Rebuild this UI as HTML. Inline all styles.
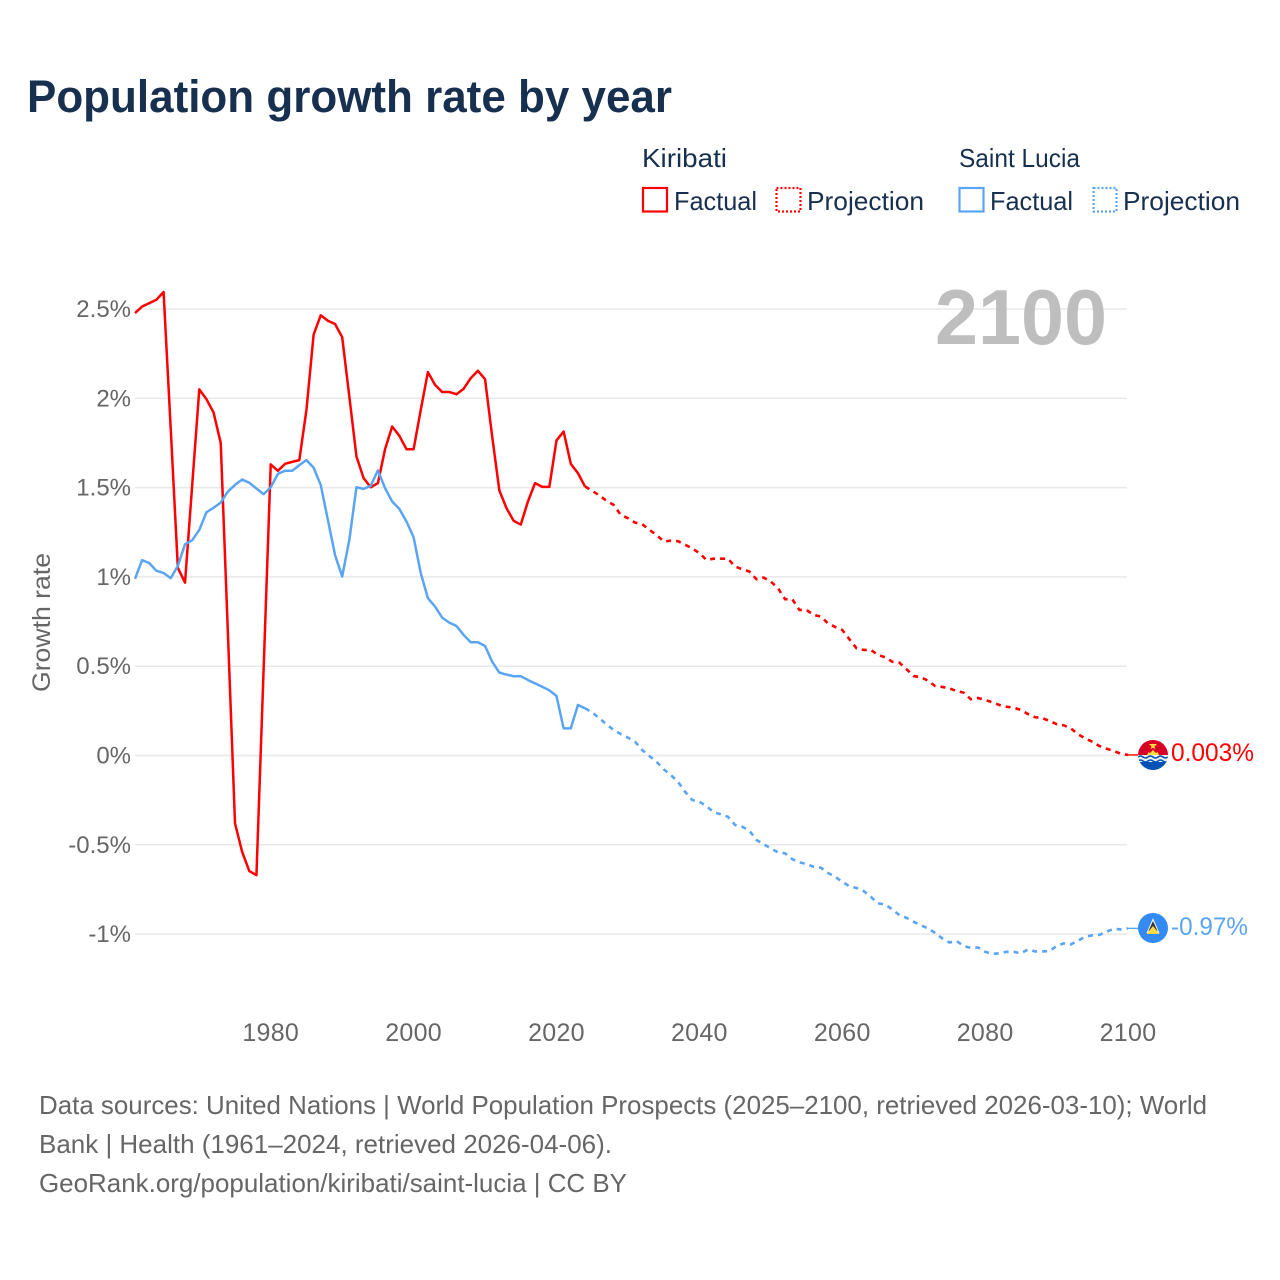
<!DOCTYPE html>
<html lang="en">
<head>
<meta charset="utf-8">
<title>Population growth rate by year</title>
<style>
html,body{margin:0;padding:0;background:#fff;}
svg{display:block;font-family:"Liberation Sans",sans-serif;}
</style>
</head>
<body>
<svg id="chart" xmlns="http://www.w3.org/2000/svg" width="1280" height="1280" viewBox="0 0 1280 1280">
  <rect x="0" y="0" width="1280" height="1280" fill="#ffffff"/>
  <text x="27" y="112" font-size="45" font-weight="700" fill="#18304f" textLength="645" lengthAdjust="spacingAndGlyphs">Population growth rate by year</text>

  <g>
    <text x="642" y="167" font-size="26" fill="#18304f" textLength="85" lengthAdjust="spacingAndGlyphs">Kiribati</text>
    <text x="959" y="167" font-size="26" fill="#18304f" textLength="121" lengthAdjust="spacingAndGlyphs">Saint Lucia</text>
    <rect x="643" y="188" width="24" height="23.5" fill="none" stroke="#ff0000" stroke-width="2.2"/>
    <text x="674" y="210" font-size="26" fill="#18304f" textLength="83" lengthAdjust="spacingAndGlyphs">Factual</text>
    <rect x="776.5" y="188" width="24" height="23.5" fill="none" stroke="#ff0000" stroke-width="2.2" stroke-dasharray="2 2"/>
    <text x="807" y="210" font-size="26" fill="#18304f" textLength="117" lengthAdjust="spacingAndGlyphs">Projection</text>
    <rect x="959.5" y="188" width="24" height="23.5" fill="none" stroke="#5aa5f3" stroke-width="2.2"/>
    <text x="990" y="210" font-size="26" fill="#18304f" textLength="83" lengthAdjust="spacingAndGlyphs">Factual</text>
    <rect x="1093.5" y="188" width="23" height="23.5" fill="none" stroke="#5aa5f3" stroke-width="2.2" stroke-dasharray="2 2"/>
    <text x="1123" y="210" font-size="26" fill="#18304f" textLength="117" lengthAdjust="spacingAndGlyphs">Projection</text>
  </g>

  <g id="grid"></g>
  <text x="935" y="344" font-size="78" font-weight="700" fill="#bebebe" textLength="172" lengthAdjust="spacingAndGlyphs">2100</text>
  <g id="y-axis"></g>
  <g id="x-axis"></g>
  <text transform="translate(50,692) rotate(-90)" x="0" y="0" font-size="25" fill="#666666" textLength="139" lengthAdjust="spacingAndGlyphs">Growth rate</text>
  <g id="series"></g>

  <g>
    <clipPath id="clip-ki"><circle cx="1153" cy="755" r="15"/></clipPath>
    <g clip-path="url(#clip-ki)">
      <rect x="1138" y="740" width="30" height="15" fill="#d80027"/>
      <rect x="1138" y="755" width="30" height="9" fill="#f0f0f0"/>
      <rect x="1138" y="762" width="30" height="8" fill="#0052b4"/>
      <path d="M1147 755l1.5-3 1.5 1 3-3 3 3 1.5-1 1.5 3z" fill="#ffda44"/>
      <path d="M1149 744h8l-2.5 2.5 1 2.5-2.5-1.2-2.5 1.2 1-2.5z" fill="#ffda44"/>
      <path d="M1138 757q2.5-2 5 0t5 0 5 0 5 0 5 0 5 0" fill="none" stroke="#0052b4" stroke-width="1.5"/>
      <path d="M1138 761q2.5-2 5 0t5 0 5 0 5 0 5 0 5 0" fill="none" stroke="#0052b4" stroke-width="1.5"/>
    </g>
  </g>
  <g>
    <circle cx="1153" cy="928" r="15" fill="#338af3"/>
    <path d="M1153 918l6.5 15h-13z" fill="#f0f0f0"/>
    <path d="M1153 921l4.5 10h-9z" fill="#333333"/>
    <path d="M1153 926l6.5 8h-13z" fill="#ffda44"/>
  </g>
  <text x="1171" y="761" font-size="25" fill="#ff0000" textLength="83" lengthAdjust="spacingAndGlyphs">0.003%</text>
  <text x="1171" y="935" font-size="25" fill="#5aa5f3" textLength="77" lengthAdjust="spacingAndGlyphs">-0.97%</text>

  <g font-size="26" fill="#666666">
    <text x="39" y="1114" textLength="1168" lengthAdjust="spacingAndGlyphs">Data sources: United Nations | World Population Prospects (2025–2100, retrieved 2026-03-10); World</text>
    <text x="39" y="1153" textLength="573" lengthAdjust="spacingAndGlyphs">Bank | Health (1961–2024, retrieved 2026-04-06).</text>
    <text x="39" y="1192" textLength="588" lengthAdjust="spacingAndGlyphs">GeoRank.org/population/kiribati/saint-lucia | CC BY</text>
  </g>
</svg>
<script>
const factualStartYear = 1961;
const projectionStartYear = 2024;
const yTickValues = [2.5, 2, 1.5, 1, 0.5, 0, -0.5, -1];
const yTickLabels = ["2.5%", "2%", "1.5%", "1%", "0.5%", "0%", "-0.5%", "-1%"];
const xTickValues = [1980, 2000, 2020, 2040, 2060, 2080, 2100];
const xTickLabels = ["1980", "2000", "2020", "2040", "2060", "2080", "2100"];

const kiribatiFactual = [2.477,2.514,2.533,2.552,2.595,1.83,1.05,0.968,1.51,2.05,1.995,1.92,1.75,0.69,-0.38,-0.54,-0.647,-0.67,0.48,1.63,1.594,1.633,1.644,1.654,1.935,2.356,2.465,2.434,2.416,2.343,2.01,1.674,1.553,1.502,1.525,1.715,1.842,1.79,1.715,1.715,1.935,2.147,2.075,2.035,2.035,2.023,2.053,2.113,2.154,2.107,1.786,1.484,1.385,1.314,1.293,1.422,1.525,1.504,1.504,1.764,1.814,1.633,1.581,1.506];
const kiribatiProjection = [1.506,1.482,1.456,1.426,1.403,1.347,1.329,1.304,1.295,1.263,1.235,1.198,1.203,1.2,1.18,1.16,1.133,1.095,1.102,1.102,1.102,1.058,1.043,1.03,0.987,0.996,0.974,0.937,0.875,0.875,0.815,0.815,0.787,0.778,0.74,0.72,0.703,0.651,0.6,0.591,0.591,0.563,0.55,0.525,0.52,0.483,0.445,0.438,0.419,0.389,0.384,0.376,0.361,0.352,0.315,0.322,0.311,0.298,0.283,0.273,0.268,0.255,0.232,0.214,0.21,0.193,0.176,0.169,0.152,0.119,0.096,0.077,0.053,0.038,0.025,0.01,0.003];
const saintLuciaFactual = [0.989,1.094,1.077,1.034,1.022,0.993,1.062,1.183,1.205,1.263,1.362,1.387,1.416,1.478,1.515,1.545,1.527,1.495,1.463,1.502,1.577,1.594,1.594,1.626,1.654,1.612,1.515,1.319,1.123,1.002,1.207,1.502,1.493,1.51,1.596,1.497,1.422,1.381,1.31,1.222,1.021,0.881,0.834,0.772,0.744,0.725,0.675,0.634,0.634,0.613,0.525,0.464,0.453,0.444,0.444,0.423,0.404,0.385,0.365,0.333,0.152,0.152,0.283,0.264];
const saintLuciaProjection = [0.264,0.242,0.208,0.175,0.143,0.12,0.1,0.077,0.031,-0.003,-0.035,-0.077,-0.109,-0.147,-0.203,-0.249,-0.259,-0.283,-0.318,-0.329,-0.343,-0.389,-0.399,-0.421,-0.473,-0.497,-0.52,-0.542,-0.548,-0.58,-0.598,-0.608,-0.623,-0.628,-0.657,-0.679,-0.707,-0.732,-0.742,-0.759,-0.791,-0.828,-0.834,-0.862,-0.894,-0.909,-0.931,-0.95,-0.968,-0.993,-1.024,-1.047,-1.039,-1.067,-1.077,-1.075,-1.099,-1.11,-1.108,-1.099,-1.099,-1.108,-1.086,-1.097,-1.097,-1.095,-1.067,-1.052,-1.058,-1.037,-1.015,-1.007,-1.004,-0.987,-0.97,-0.974,-0.968];

const SVG_NS = "http://www.w3.org/2000/svg";
const RED = "#ff0000";
const BLUE = "#5aa5f3";
function xScale(year) { return 135 + (year - 1961) * (993 / 139); }
function yScale(value) { return 755.5 - value * 178.6; }

function make(tag, attrs, parent) {
  const el = document.createElementNS(SVG_NS, tag);
  for (const k in attrs) el.setAttribute(k, attrs[k]);
  parent.appendChild(el);
  return el;
}

const gridGroup = document.getElementById("grid");
const yAxisGroup = document.getElementById("y-axis");
yTickValues.forEach(function (v, i) {
  const line = make("line", { x1: 135, x2: 1127, y1: yScale(v), y2: yScale(v), stroke: "#e8e8e8", "stroke-width": 1.5 }, gridGroup);
  
  
  const label = make("text", { x: 131, y: yScale(v) + 8, "text-anchor": "end", "font-size": 24, fill: "#666666" }, yAxisGroup);
  label.textContent = yTickLabels[i];
  
  
});

const xAxisGroup = document.getElementById("x-axis");
xTickValues.forEach(function (v, i) {
  const label = make("text", { x: xScale(v), y: 1041, "text-anchor": "middle", "font-size": 25, fill: "#666666", "letter-spacing": 0.3 }, xAxisGroup);
  label.textContent = xTickLabels[i];
  
  
});

function pathFor(values, startYear) {
  return values.map(function (v, i) {
    return (i ? "L" : "M") + xScale(startYear + i).toFixed(2) + " " + yScale(v).toFixed(2);
  }).join("");
}

const seriesGroup = document.getElementById("series");

const kiribatiProjectionLine = make("path", { d: pathFor(kiribatiProjection, projectionStartYear), fill: "none", stroke: RED, "stroke-width": 2.6, "stroke-dasharray": "5 5" }, seriesGroup);



const saintLuciaProjectionLine = make("path", { d: pathFor(saintLuciaProjection, projectionStartYear), fill: "none", stroke: BLUE, "stroke-width": 2.6, "stroke-dasharray": "5 5" }, seriesGroup);



const kiribatiFactualLine = make("path", { d: pathFor(kiribatiFactual, factualStartYear), fill: "none", stroke: RED, "stroke-width": 2.5, "stroke-linejoin": "round" }, seriesGroup);



const saintLuciaFactualLine = make("path", { d: pathFor(saintLuciaFactual, factualStartYear), fill: "none", stroke: BLUE, "stroke-width": 2.5, "stroke-linejoin": "round" }, seriesGroup);



const kiribatiLast = kiribatiProjection[kiribatiProjection.length - 1];
const kiribatiLeader = make("line", { x1: xScale(2100), x2: xScale(2100) + 10, y1: yScale(kiribatiLast), y2: yScale(kiribatiLast), stroke: RED, "stroke-width": 1.4 }, seriesGroup);



const saintLuciaLast = saintLuciaProjection[saintLuciaProjection.length - 1];
const saintLuciaLeader = make("line", { x1: xScale(2100), x2: xScale(2100) + 10, y1: yScale(saintLuciaLast), y2: yScale(saintLuciaLast), stroke: BLUE, "stroke-width": 1.4 }, seriesGroup);


</script>
</body>
</html>
